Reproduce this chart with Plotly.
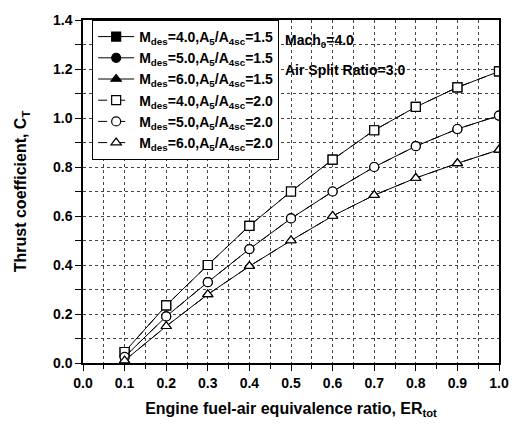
import plotly.graph_objects as go

er = [0.1, 0.2, 0.3, 0.4, 0.5, 0.6, 0.7, 0.8, 0.9, 1.0]
ct_m4 = [0.045, 0.235, 0.40, 0.56, 0.70, 0.83, 0.95, 1.045, 1.125, 1.19]
ct_m5 = [0.025, 0.19, 0.33, 0.465, 0.59, 0.70, 0.80, 0.885, 0.955, 1.01]
ct_m6 = [0.01, 0.15, 0.28, 0.395, 0.50, 0.60, 0.685, 0.755, 0.815, 0.87]
# A5/A4sc = 2.0 curves (coincide with 1.5 at this resolution)
ct_m4b = [0.045, 0.235, 0.40, 0.56, 0.70, 0.83, 0.95, 1.045, 1.125, 1.19]
ct_m5b = [0.025, 0.19, 0.33, 0.465, 0.59, 0.70, 0.80, 0.885, 0.955, 1.01]
ct_m6b = [0.01, 0.15, 0.28, 0.395, 0.50, 0.60, 0.685, 0.755, 0.815, 0.87]

labels = [
    "M<sub>des</sub>=4.0,A<sub>5</sub>/A<sub>4sc</sub>=1.5",
    "M<sub>des</sub>=5.0,A<sub>5</sub>/A<sub>4sc</sub>=1.5",
    "M<sub>des</sub>=6.0,A<sub>5</sub>/A<sub>4sc</sub>=1.5",
    "M<sub>des</sub>=4.0,A<sub>5</sub>/A<sub>4sc</sub>=2.0",
    "M<sub>des</sub>=5.0,A<sub>5</sub>/A<sub>4sc</sub>=2.0",
    "M<sub>des</sub>=6.0,A<sub>5</sub>/A<sub>4sc</sub>=2.0",
]

series = [ct_m4, ct_m5, ct_m6, ct_m4b, ct_m5b, ct_m6b]
symbols = ["square", "circle", "triangle-up", "square", "circle", "triangle-up"]
fills = ["black", "black", "black", "white", "white", "white"]
dashes = ["solid", "solid", "solid", "dash", "dash", "dash"]

fig = go.Figure()
for y, lab, sym, fc, d in zip(series, labels, symbols, fills, dashes):
    fig.add_trace(go.Scatter(
        x=er, y=y, name=lab, mode="lines+markers",
        line=dict(color="black", width=1, dash=d),
        marker=dict(symbol=sym, size=9, color=fc,
                    line=dict(color="black", width=1.2)),
    ))

font_bold = "Liberation Sans"

fig.update_layout(
    width=521, height=427,
    margin=dict(l=83, r=19, t=14, b=64),
    plot_bgcolor="white", paper_bgcolor="white",
    font=dict(family=font_bold, color="black", size=14),
    legend=dict(
        x=0.022, y=1.0, xanchor="left", yanchor="top",
        bordercolor="black", borderwidth=1, bgcolor="white",
        font=dict(size=14, family=font_bold, color="black", weight="bold"),
        tracegroupgap=0, itemwidth=36,
    ),
    annotations=[
        dict(x=0.48, y=0.94, xref="paper", yref="paper", xanchor="left", yanchor="middle",
             text="Mach<sub>0</sub>=4.0", showarrow=False,
             font=dict(size=14, weight="bold", family=font_bold)),
        dict(x=0.48, y=0.855, xref="paper", yref="paper", xanchor="left", yanchor="middle",
             text="Air Split Ratio=3.0", showarrow=False,
             font=dict(size=14, weight="bold", family=font_bold)),
    ],
)

fig.update_xaxes(
    range=[0, 1.0], dtick=0.1, tick0=0, tickformat=".1f",
    showline=True, linecolor="black", linewidth=1.5, mirror=True,
    ticks="outside", ticklen=6, tickcolor="black",
    tickfont=dict(size=14, weight="bold"),
    showgrid=True, gridcolor="#444", griddash="dot", gridwidth=1,
    minor=dict(dtick=0.05, ticks="outside", ticklen=4, tickcolor="black",
               showgrid=True, gridcolor="#444", griddash="dot", gridwidth=1),
    zeroline=False,
    title=dict(text="Engine fuel-air equivalence ratio, ER<sub>tot</sub>",
               font=dict(size=16, weight="bold"), standoff=13),
)
fig.update_yaxes(
    range=[0, 1.4], dtick=0.2, tick0=0, tickformat=".1f",
    showline=True, linecolor="black", linewidth=1.5, mirror=True,
    ticks="outside", ticklen=6, tickcolor="black",
    tickfont=dict(size=14, weight="bold"),
    showgrid=True, gridcolor="#444", griddash="dot", gridwidth=1,
    minor=dict(dtick=0.1, ticks="outside", ticklen=6, tickcolor="black",
               showgrid=True, gridcolor="#444", griddash="dot", gridwidth=1),
    zeroline=False,
    title=dict(text="Thrust coefficient, C<sub>T</sub>",
               font=dict(size=16, weight="bold"), standoff=22),
)

fig.write_html("out.html")
